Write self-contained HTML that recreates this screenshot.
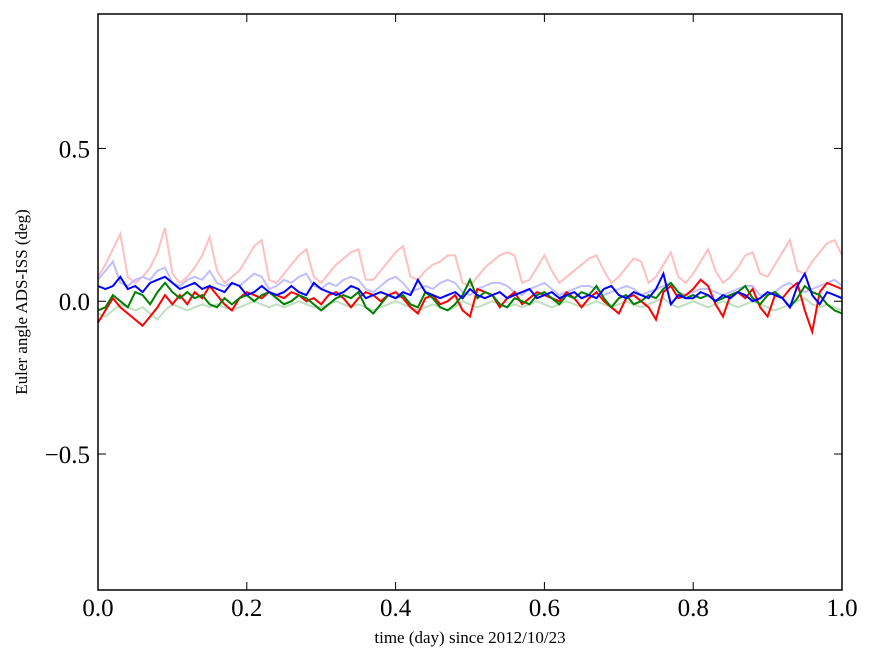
<!DOCTYPE html>
<html><head><meta charset="utf-8"><style>
body{margin:0;background:#fff;width:875px;height:662px;overflow:hidden}
svg text{font-family:"Liberation Serif",serif}
</style></head><body>
<svg id="chart" width="875" height="662" viewBox="0 0 875 662" xmlns="http://www.w3.org/2000/svg">
<g id="series"></g>
<rect x="98" y="14" width="744" height="576" fill="none" stroke="#000" stroke-width="1.5"/>
<g id="axes"></g>
<text x="470" y="643" font-size="17" text-anchor="middle">time (day) since 2012/10/23</text>
<text transform="translate(27,302) rotate(-90)" font-size="17" text-anchor="middle">Euler angle ADS-ISS (deg)</text>
</svg>
<script>
const xTicks=[0,0.2,0.4,0.6,0.8,1.0];
const xTickLabels=["0.0","0.2","0.4","0.6","0.8","1.0"];
const yTicks=[-0.5,0,0.5];
const yTickLabels=["\u22120.5","0.0","0.5"];
const tStep=0.01;
const pinkVals=[.08,.12,.17,.22,.08,.06,.08,.11,.16,.24,.09,.06,.08,.11,.15,.21,.10,.06,.08,.10,.14,.18,.20,.07,.06,.09,.12,.15,.17,.08,.06,.09,.12,.14,.16,.17,.07,.07,.10,.13,.16,.18,.08,.07,.10,.12,.13,.15,.15,.06,.05,.08,.11,.13,.15,.16,.15,.06,.07,.11,.15,.10,.06,.08,.10,.12,.14,.15,.10,.06,.08,.11,.14,.13,.06,.08,.12,.16,.08,.06,.09,.13,.17,.10,.06,.08,.11,.15,.16,.09,.08,.12,.16,.20,.10,.09,.13,.16,.19,.20,.15];
const lightBlueVals=[.07,.10,.13,.06,.05,.07,.08,.07,.10,.11,.06,.05,.07,.08,.07,.10,.06,.05,.06,.05,.07,.09,.08,.04,.05,.07,.06,.08,.09,.05,.04,.06,.05,.07,.08,.07,.04,.03,.05,.07,.08,.06,.03,.04,.05,.04,.06,.07,.06,.03,.02,.04,.05,.06,.06,.05,.03,.02,.04,.05,.06,.04,.02,.03,.04,.05,.05,.04,.02,.03,.04,.05,.04,.02,.03,.04,.05,.06,.03,.02,.03,.04,.04,.03,.02,.03,.04,.05,.05,.02,.02,.03,.05,.06,.04,.03,.04,.05,.06,.07,.05];
const lightGreenVals=[-.04,-.05,-.03,-.01,-.02,-.03,-.02,-.04,-.06,-.03,-.01,-.02,-.03,-.02,-.01,-.02,-.01,-.02,-.03,-.02,-.01,0,-.01,-.02,-.01,-.02,-.01,0,-.01,-.02,-.02,-.01,0,-.01,-.02,-.01,-.02,-.03,-.02,-.01,0,-.01,-.02,-.03,-.02,-.01,-.02,-.03,-.02,0,-.01,-.02,-.01,0,-.01,-.02,-.01,-.02,-.01,0,-.01,-.02,-.01,0,-.01,-.02,-.01,0,-.01,-.02,-.01,0,-.01,-.02,-.01,0,.01,-.01,-.02,-.01,0,-.01,-.02,-.01,0,-.01,-.02,-.01,0,-.01,-.02,-.03,-.02,-.01,0,.01,-.01,-.02,-.01,-.02,-.03];
const redVals=[-.07,-.03,.01,-.02,-.04,-.06,-.08,-.05,-.02,.02,-.01,.02,-.01,.03,.01,.05,.02,-.01,-.03,.01,.03,.02,.01,.03,.02,.01,.03,.02,0,.01,-.01,.02,.03,.01,-.02,.01,.03,.02,0,.02,.03,.01,-.02,-.04,.01,.02,-.01,0,.02,-.03,-.05,.04,.03,.02,-.02,.01,.03,-.01,.01,.03,.02,.01,0,.03,.01,-.02,.01,.03,0,-.02,-.04,.01,.02,0,-.02,-.06,.03,.05,.01,.02,.04,.07,.05,-.01,-.05,.02,.03,.01,.04,-.02,-.05,.02,.01,.04,.06,-.03,-.1,.03,.06,.05,.04];
const greenVals=[-.03,-.02,.02,0,-.02,.03,.02,-.01,.03,.06,.03,.01,.03,.01,.02,-.01,-.02,.01,-.01,.01,.02,0,.02,.03,.01,-.01,0,.02,.01,-.01,-.03,-.01,.01,.02,.01,.03,-.02,-.04,-.01,.02,.01,.02,-.01,-.02,.03,.01,-.02,-.03,-.01,.02,.07,.01,.03,.02,-.01,-.02,.01,0,-.01,.02,.03,.01,-.01,.02,.01,.03,.02,.05,.01,-.02,.01,.02,-.01,0,.02,.01,.04,.06,.03,.01,.02,.01,.02,0,.01,.02,.03,.05,.01,-.01,.02,.03,.01,-.02,.01,.05,.03,.02,-.01,-.03,-.04];
const blueVals=[.05,.04,.05,.08,.04,.05,.03,.06,.07,.08,.06,.04,.05,.06,.04,.05,.04,.03,.06,.05,.02,.03,.05,.03,.02,.03,.05,.03,.02,.06,.04,.03,.02,.03,.05,.04,.01,.02,.03,.02,.01,.03,.02,.07,.03,.02,.01,.02,.03,.01,.04,.02,.01,.02,.03,.01,.02,.03,.04,.01,.02,.03,.01,.02,.03,.01,.02,.01,.04,.05,.02,.01,.03,.02,.01,.04,.09,-.01,.02,.01,.01,.03,.02,0,.02,.01,.03,.02,0,.01,.03,.02,.01,-.02,.05,.09,.02,-.01,.03,.02,.01];
const seriesList=[
 {name:"pink-series",vals:pinkVals,color:"#ffbfbf",w:2},
 {name:"light-blue-series",vals:lightBlueVals,color:"#bfbfff",w:2},
 {name:"light-green-series",vals:lightGreenVals,color:"#bfdfbf",w:2},
 {name:"red-series",vals:redVals,color:"#ff0000",w:2},
 {name:"green-series",vals:greenVals,color:"#008000",w:2},
 {name:"blue-series",vals:blueVals,color:"#0000ff",w:2}];
const X0=98,X1=842,Y0=14,Y1=590,ymin=-0.945,ymax=0.94;
const xs=v=>X0+(X1-X0)*v;
const ys=v=>Y1-(Y1-Y0)*(v-ymin)/(ymax-ymin);
const NS="http://www.w3.org/2000/svg";
const g=document.getElementById('series');
seriesList.forEach(s=>{
 const p=document.createElementNS(NS,'polyline');
 
 
 p.setAttribute('points',s.vals.map((v,i)=>xs(i*tStep).toFixed(1)+','+ys(v).toFixed(1)).join(' '));
 p.setAttribute('fill','none');p.setAttribute('stroke',s.color);p.setAttribute('stroke-width',s.w);
 g.appendChild(p);
});
const a=document.getElementById('axes');
function add(tag,attrs,txt){const e=document.createElementNS(NS,tag);for(const k in attrs)e.setAttribute(k,attrs[k]);if(txt)e.textContent=txt;a.appendChild(e);return e;}
xTicks.forEach((v,i)=>{
 const x=xs(v);
 const t1=add('line',{x1:x,x2:x,y1:Y1,y2:Y1-8,stroke:'#000'});
 
 
 add('line',{x1:x,x2:x,y1:Y0,y2:Y0+8,stroke:'#000'});
 const l=add('text',{x:x,y:616,'font-size':25,'text-anchor':'middle'},xTickLabels[i]);
 
 
});
yTicks.forEach((v,i)=>{
 const y=ys(v);
 const t1=add('line',{x1:X0,x2:X0+8,y1:y,y2:y,stroke:'#000'});
 
 
 add('line',{x1:X1,x2:X1-8,y1:y,y2:y,stroke:'#000'});
 const l=add('text',{x:90,y:y+9,'font-size':25,'text-anchor':'end'},yTickLabels[i]);
 
 
});
</script>
</body></html>
